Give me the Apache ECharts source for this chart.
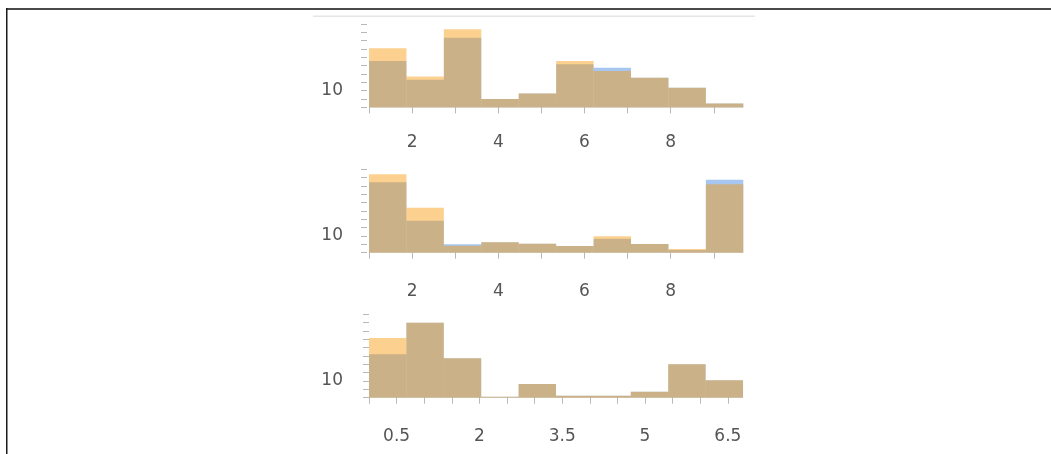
<!DOCTYPE html>
<html>
<head>
<meta charset="utf-8">
<script src="https://cdn.jsdelivr.net/npm/echarts@6/dist/echarts.min.js"></script>
<style>
html,body{margin:0;padding:0;background:#fff;}
#chart{width:1051px;height:454px;}
</style>
</head>
<body>
<div id="chart"></div>
<script>
// ---- data ----
// bin edges (x units)
const edgesA = [1, 1.8685, 2.737, 3.6055, 4.474, 5.3425, 6.211, 7.0795, 7.948, 8.8165, 9.685];
const edgesC = [0, 0.6775, 1.355, 2.0325, 2.71, 3.3875, 4.065, 4.7425, 5.42, 6.0975, 6.775];

// panel 1
const p1Orange = [35.4, 18.6, 46.8, 5.0, 8.4, 27.8, 21.8, 17.8, 11.8, 2.4];
const p1Blue   = [27.8, 16.6, 41.8, 5.0, 8.4, 25.8, 23.8, 17.8, 11.8, 2.4];
// panel 2
const p2Orange = [47.0, 27.0, 4.2, 6.2, 5.4, 4.0, 9.8, 5.2, 2.2, 41.0];
const p2Blue   = [42.2, 19.2, 5.0, 6.2, 5.4, 4.0, 8.4, 5.2, 1.6, 43.8];
// panel 3
const p3Orange = [35.8, 45.0, 23.6, 0.6, 8.2, 1.2, 1.2, 3.6, 20.0, 10.4];
const p3Blue   = [26.0, 45.0, 23.6, 0.6, 8.2, 1.2, 1.2, 3.6, 20.0, 10.4];

// ticks and labels
const xTicksAB = [1, 2, 3, 4, 5, 6, 7, 8, 9];
const xLabelsAB = [2, 4, 6, 8];
const xTicksC = [0, 0.5, 1, 1.5, 2, 2.5, 3, 3.5, 4, 4.5, 5, 5.5, 6, 6.5];
const xLabelsC = [0.5, 2, 3.5, 5, 6.5];
const yTicks = [0, 5, 10, 15, 20, 25, 30, 35, 40, 45, 50];
const yLabels = [10];

// ---- styling ----
const BLUE = 'rgba(60,130,225,0.45)';
const ORANGE = 'rgba(248,150,0,0.44)';
const FONT = 'DejaVu Sans';
const TXT = '#555';
const TICK = '#b8b8b8';

function toBins(edges, vals) {
  return vals.map((v, i) => [edges[i], edges[i + 1], v]);
}
function makeRender(fill) {
  return function (params, api) {
    const a = api.coord([api.value(0), api.value(2)]);
    const b = api.coord([api.value(1), 0]);
    return {
      type: 'rect',
      shape: { x: a[0], y: a[1], width: b[0] - a[0], height: b[1] - a[1] },
      style: { fill: fill }
    };
  };
}

const gridTops = [24, 169.3, 314.3];
const grids = gridTops.map(t => ({ left: 369, top: t, width: 374.3, height: 83.4 }));

const xMargins = [24, 27, 27];
const xAxes = [0, 1, 2].map(i => ({
  type: 'value',
  gridIndex: i,
  min: i < 2 ? 1 : 0,
  max: i < 2 ? 9.685 : 6.78,
  offset: 3,
  axisLine: { show: false },
  splitLine: { show: false },
  axisTick: { show: true, length: 6, lineStyle: { color: TICK, width: 1 }, customValues: i < 2 ? xTicksAB : xTicksC },
  axisLabel: {
    show: true, margin: xMargins[i], color: TXT, fontFamily: FONT, fontSize: 17,
    customValues: i < 2 ? xLabelsAB : xLabelsC,
    formatter: v => String(v)
  }
}));

const yAxes = [0, 1, 2].map(i => ({
  type: 'value',
  gridIndex: i,
  min: 0,
  max: 50,
  offset: 2,
  axisLine: { show: false },
  splitLine: { show: false },
  axisTick: { show: true, length: 6, lineStyle: { color: TICK, width: 1 }, customValues: yTicks },
  axisLabel: {
    show: true, margin: 24, color: TXT, fontFamily: FONT, fontSize: 17,
    customValues: yLabels,
    formatter: v => String(v)
  }
}));

const panels = [[p1Blue, p1Orange, edgesA], [p2Blue, p2Orange, edgesA], [p3Blue, p3Orange, edgesC]];
const series = [];
panels.forEach((p, i) => {
  series.push({
    type: 'custom', xAxisIndex: i, yAxisIndex: i, silent: true,
    renderItem: makeRender(BLUE), data: toBins(p[2], p[0]), encode: { x: [0, 1], y: 2 }
  });
  series.push({
    type: 'custom', xAxisIndex: i, yAxisIndex: i, silent: true,
    renderItem: makeRender(ORANGE), data: toBins(p[2], p[1]), encode: { x: [0, 1], y: 2 }
  });
});

const chart = echarts.init(document.getElementById('chart'), null, { renderer: 'canvas' });
chart.setOption({
  animation: false,
  backgroundColor: '#ffffff',
  grid: grids,
  xAxis: xAxes,
  yAxis: yAxes,
  series: series,
  graphic: [
    { type: 'rect', silent: true, shape: { x: 6, y: 8, width: 1045, height: 2 }, style: { fill: '#4a4a4a' } },
    { type: 'rect', silent: true, shape: { x: 6, y: 8, width: 1.5, height: 446 }, style: { fill: '#1a1a1a' } },
    { type: 'rect', silent: true, shape: { x: 313, y: 15.5, width: 442, height: 1.5 }, style: { fill: '#e6e6e6' } }
  ]
});
</script>
</body>
</html>
